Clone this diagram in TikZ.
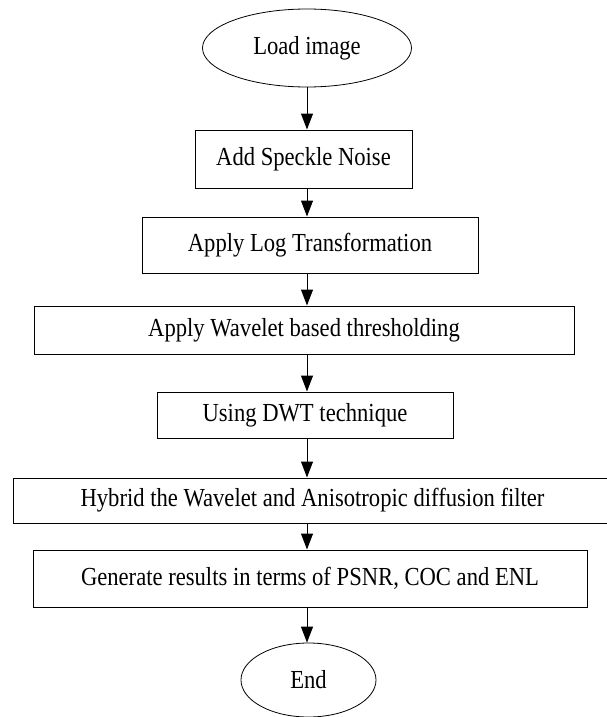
\documentclass[tikz,border=0pt]{standalone}
\usepackage{fontspec}
\setmainfont{Liberation Serif}[FakeStretch=0.87]
\usetikzlibrary{shapes.geometric,arrows.meta}

\begin{document}
\begin{tikzpicture}[x=1pt,y=-1pt,>={Triangle[length=16pt,width=12pt]}]
              \useasboundingbox (0,0) rectangle (606,717);
              \begin{scope}[every node/.style={draw,line width=1pt,inner sep=0pt,font=\fontsize{26}{31}\selectfont}]
                  \node[ellipse,line width=0.8pt,minimum width=209pt,minimum height=78pt] (load) at (307,48) {Load image};
                  \node[minimum width=217pt,minimum height=58pt] (speckle) at (303.5,159) {Add Speckle Noise};
                  \node[minimum width=336pt,minimum height=56pt] (logtr) at (310,245) {Apply Log Transformation};
                  \node[minimum width=540pt,minimum height=48pt] (wavelet) at (304,330) {Apply Wavelet based thresholding};
                  \node[minimum width=296pt,minimum height=46pt] (dwt) at (305,415) {Using DWT technique};
                  \node[minimum width=599pt,minimum height=45pt] (hybrid) at (312.5,500.5) {Hybrid the Wavelet and Anisotropic diffusion filter};
                  \node[minimum width=554pt,minimum height=57pt] (results) at (310,578.5) {Generate results in terms of PSNR, COC and ENL};
                  \node[ellipse,line width=0.8pt,minimum width=135pt,minimum height=74pt] (end) at (308.5,680) {End};
              \end{scope}

              \begin{scope}[line width=1pt]
                  \path [->] (load.south) edge (speckle.north -| load);
                  \path [->] (speckle.south -| load) edge (logtr.north -| load);
                  \path [->] (logtr.south -| load) edge (wavelet.north -| load);
                  \path [->] (wavelet.south -| load) edge (dwt.north -| load);
                  \path [->] (dwt.south -| load) edge (hybrid.north -| load);
                  \path [->] (hybrid.south -| load) edge (results.north -| load);
                  \path [->] (results.south -| load) edge (end.north -| load);
              \end{scope}
              \end{tikzpicture}
\end{document}
